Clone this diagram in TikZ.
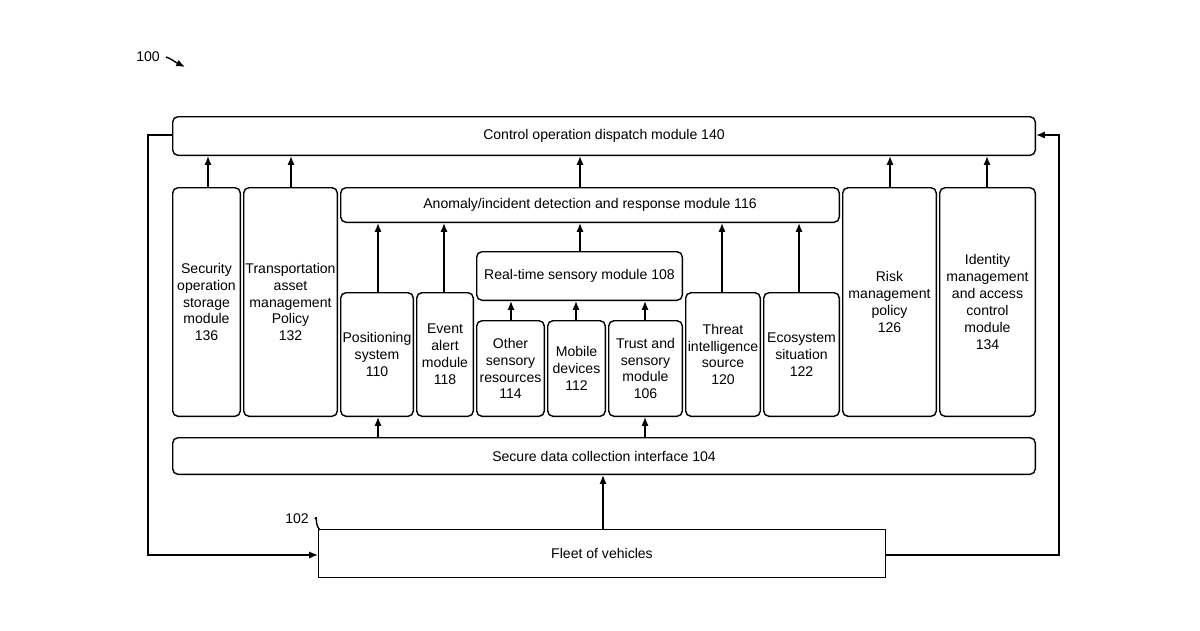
\documentclass[tikz,border=0pt]{standalone}
\usepackage{fontspec}
\setmainfont{Liberation Sans}
\usetikzlibrary{arrows.meta}
\begin{document}
\begin{tikzpicture}[x=0.02cm,y=-0.02cm,
  bx/.style={draw,line width=0.8pt,rounded corners=3pt,align=center,font=\fontsize{8}{9.6}\selectfont,inner sep=1pt},
  ar/.style={-{Latex[length=5pt,width=4pt]},line width=0.8pt}]
\useasboundingbox (0,0) rectangle (1200,630);
\newcommand{\bx}[6]{\node[bx,minimum width=#4*0.02cm-0.8pt,minimum height=#5*0.02cm-0.8pt,anchor=north west] (#1) at (#2,#3) {#6};}
\bx{ctrl}{172}{116}{864}{40}{Control operation dispatch module 140}
\bx{sec}{172}{187}{69}{230}{Security\\operation\\storage\\module\\136}
\bx{tra}{243}{187}{95}{230}{Transportation\\asset\\management\\Policy\\132}
\bx{ano}{340}{187}{500}{36}{Anomaly/incident detection and response module 116}
\bx{risk}{842}{187}{95}{230}{Risk\\management\\policy\\126}
\bx{idm}{939}{187}{97}{230}{Identity\\management\\and access\\control\\module\\134}
\bx{pos}{340}{292}{74}{125}{Positioning\\system\\110}
\bx{evt}{416}{292}{58}{125}{Event\\alert\\module\\118}
\bx{rt}{476}{251}{207}{50}{Real-time sensory module 108}
\bx{oth}{476}{320}{69}{97}{Other\\sensory\\resources\\114}
\bx{mob}{547}{320}{59}{97}{Mobile\\devices\\112}
\bx{tru}{608}{320}{75}{97}{Trust and\\sensory\\module\\106}
\bx{thr}{685}{292}{76}{125}{Threat\\intelligence\\source\\120}
\bx{eco}{763}{292}{77}{125}{Ecosystem\\situation\\122}
\bx{sdc}{172}{437}{864}{38}{Secure data collection interface 104}
\node[bx,rounded corners=0pt,minimum width=568*0.02cm-0.8pt,minimum height=49*0.02cm-0.8pt,anchor=north west] (fleet) at (318,529) {Fleet of vehicles};
% arrows to control
\foreach \n/\x in {sec/208,tra/291,ano/580,risk/890,idm/987}
  \draw[ar] (\n.north -| \x,0) -- (ctrl.south -| \x,0);
\foreach \n/\x in {pos/378,evt/444,rt/580,thr/722,eco/799}
  \draw[ar] (\n.north -| \x,0) -- (ano.south -| \x,0);
\foreach \n/\x in {oth/511,mob/576,tru/645}
  \draw[ar] (\n.north -| \x,0) -- (rt.south -| \x,0);
\draw[ar] (sdc.north -| 378,0) -- (pos.south -| 378,0);
\draw[ar] (sdc.north -| 645,0) -- (tru.south -| 645,0);
\draw[ar] (fleet.north -| 603,0) -- (sdc.south -| 603,0);
\draw[ar] (ctrl.west |- 0,135) -- (148,135) -- (148,555) -- (fleet.west |- 0,555);
\draw[ar] (fleet.east |- 0,555) -- (1059,555) -- (1059,135) -- (ctrl.east |- 0,135);
\node[font=\fontsize{8}{9.6}\selectfont] (l100) at (148,57) {100};
\coordinate (t100) at (185,67);
\draw[ar] (l100.east) .. controls (170,58) and (175,62) .. (t100);
\node[font=\fontsize{8}{9.6}\selectfont] (l102) at (297,519) {102};
\coordinate (t102) at (320,530);
\draw[line width=0.8pt] (l102.east) .. controls (318,514) and (314,524) .. (t102);
\end{tikzpicture}
\end{document}
